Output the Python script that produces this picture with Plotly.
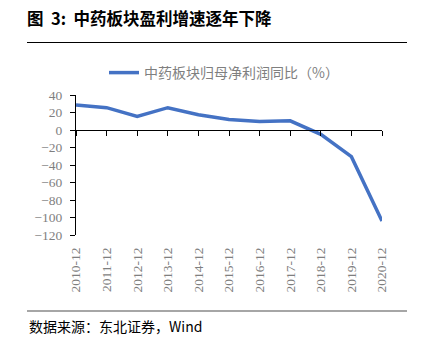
import plotly.graph_objects as go

categories = ["2010-12", "2011-12", "2012-12", "2013-12", "2014-12", "2015-12",
              "2016-12", "2017-12", "2018-12", "2019-12", "2020-12"]
values = [28.5, 25.5, 15.5, 25.5, 17.5, 12.0, 9.7, 10.5, -5.0, -30.5, -104.0]
y_ticks = [40, 20, 0, -20, -40, -60, -80, -100, -120]
series_name = "中药板块归母净利润同比（%）"
title_text = "图  3:  中药板块盈利增速逐年下降"
source_text = "数据来源：东北证券，Wind"

W, H = 421, 341
L, R, T, B = 76, 39, 95, 106
pw, ph = W - L - R, H - T - B

def px_x(x):
    return (x - L) / pw

def px_y(y):
    return (H - B - y) / ph

ymin, ymax = -120, 40
zero_pos = (0 - ymin) / (ymax - ymin)

gray = "#7f7f7f"
serif = "Liberation Serif, Times New Roman, serif"
cjk = "Noto Sans CJK SC, sans-serif"

fig = go.Figure()
fig.add_trace(go.Scatter(
    x=categories, y=values, mode="lines", name=series_name,
    line=dict(color="#4472C4", width=3.5), xaxis="x", yaxis="y",
))
fig.add_trace(go.Scatter(
    x=categories, y=values, mode="lines", showlegend=False, hoverinfo="skip",
    line=dict(color="rgba(0,0,0,0)", width=0), xaxis="x2", yaxis="y",
))

fig.update_layout(
    width=W, height=H,
    margin=dict(l=L, r=R, t=T, b=B, pad=0),
    paper_bgcolor="white", plot_bgcolor="white",
    showlegend=True,
    legend=dict(orientation="h", x=px_x(104), y=px_y(73), xanchor="left", yanchor="middle",
                font=dict(family=cjk, size=14, color=gray), bgcolor="rgba(0,0,0,0)"),
    xaxis=dict(type="category", range=[0, len(categories) - 1], showline=False,
               showgrid=False, zeroline=False, ticks="outside", ticklen=6,
               tickcolor="rgba(0,0,0,0)", tickangle=-90,
               tickfont=dict(family=serif, size=13.5, color=gray)),
    xaxis2=dict(type="category", matches="x", anchor="free", position=zero_pos,
                overlaying="x", showline=True, linecolor="black", linewidth=1,
                ticks="outside", ticklen=5, tickcolor="black", showticklabels=False,
                showgrid=False, zeroline=False, tickson="labels"),
    yaxis=dict(range=[ymin, ymax], tickvals=y_ticks, showline=True, linecolor="black",
               linewidth=1, ticks="outside", ticklen=5, tickcolor="black",
               ticklabelstandoff=5,
               showgrid=False, zeroline=False,
               tickfont=dict(family=serif, size=13.5, color=gray)),
    title=dict(text=title_text, x=27 / W, xref="container", xanchor="left",
               y=1 - 19 / H, yref="container", yanchor="middle",
               font=dict(family=cjk, size=16.5, color="black", weight="bold")),
    annotations=[dict(text=source_text, xref="paper", yref="paper",
                      x=px_x(27), y=px_y(326), xanchor="left", yanchor="middle",
                      showarrow=False, font=dict(family=cjk, size=14, color="black"))],
    shapes=[
        dict(type="line", xref="paper", yref="paper", x0=px_x(27), x1=px_x(407),
             y0=px_y(42.5), y1=px_y(42.5), line=dict(color="black", width=1)),
        dict(type="line", xref="paper", yref="paper", x0=px_x(27), x1=px_x(407),
             y0=px_y(311), y1=px_y(311), line=dict(color="#888888", width=1.5)),
    ],
)

fig.write_html("out.html")
